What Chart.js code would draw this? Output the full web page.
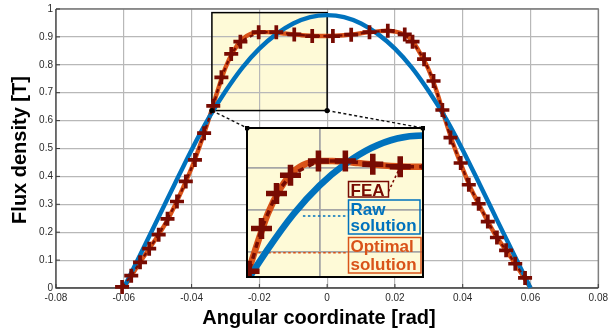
<!DOCTYPE html>
<html>
<head>
<meta charset="utf-8">
<script src="https://cdn.jsdelivr.net/npm/chart.js@4/dist/chart.umd.min.js"></script>
<style>
  html, body { margin: 0; padding: 0; background: #ffffff; }
  #wrap { position: relative; width: 612px; height: 334px; overflow: hidden; }
  #main { position: absolute; left: 0; top: 0; }
  #inset { position: absolute; left: 245px; top: 126px; }
</style>
</head>
<body>
<div id="wrap">
  <canvas id="main" width="612" height="334"></canvas>
  <canvas id="inset" width="180" height="153"></canvas>
</div>
<script>
// Angular coordinate [rad] / flux density [T] samples
const rawAngle = [-0.06, -0.055, -0.05, -0.045, -0.04, -0.035, -0.03, -0.025, -0.02, -0.015, -0.01, -0.005, 0,
                  0.005, 0.01, 0.015, 0.02, 0.025, 0.03, 0.035, 0.04, 0.045, 0.05, 0.055, 0.06];
const rawFlux  = [0, 0.123, 0.247, 0.372, 0.495, 0.608, 0.705, 0.79, 0.858, 0.91, 0.948, 0.971, 0.978,
                  0.971, 0.948, 0.91, 0.858, 0.79, 0.705, 0.608, 0.495, 0.372, 0.247, 0.123, 0];

const optAngle = [-0.06, -0.0575, -0.055, -0.0525, -0.05, -0.0475, -0.045, -0.0425, -0.04, -0.0375, -0.035, -0.0325,
                  -0.03, -0.0275, -0.025, -0.0225, -0.02, -0.0175, -0.015, -0.0125, -0.01, -0.0075, -0.005, -0.0025, 0,
                  0.0025, 0.005, 0.0075, 0.01, 0.0125, 0.015, 0.0175, 0.02, 0.0225, 0.025, 0.0275, 0.03,
                  0.0325, 0.035, 0.0375, 0.04, 0.0425, 0.045, 0.0475, 0.05, 0.0525, 0.055, 0.0575, 0.06];
const optFlux  = [0, 0.049, 0.096, 0.141, 0.186, 0.235, 0.294, 0.36, 0.43, 0.512, 0.602, 0.7,
                  0.79, 0.852, 0.892, 0.911, 0.917, 0.917, 0.915, 0.912, 0.909, 0.906, 0.904, 0.903, 0.903,
                  0.904, 0.906, 0.909, 0.913, 0.917, 0.92, 0.922, 0.919, 0.91, 0.888, 0.84, 0.781,
                  0.698, 0.597, 0.506, 0.428, 0.354, 0.295, 0.236, 0.183, 0.14, 0.096, 0.049, 0];

const feaAngle = [-0.0605, -0.0578, -0.0552, -0.0525, -0.0497, -0.0471, -0.0443, -0.0417, -0.039, -0.0363,
                  -0.0336, -0.0312, -0.0283, -0.0256, -0.0202, -0.015, -0.0097, -0.0044,
                  0.0017, 0.0071, 0.0125, 0.0179, 0.0229, 0.0252, 0.0286, 0.0314, 0.034, 0.0364,
                  0.0394, 0.0418, 0.0447, 0.0474, 0.0501, 0.0528, 0.0555, 0.0584];
const feaFlux  = [0.004, 0.044, 0.092, 0.141, 0.191, 0.248, 0.31, 0.382, 0.459, 0.555,
                  0.653, 0.755, 0.839, 0.883, 0.917, 0.917, 0.909, 0.903,
                  0.903, 0.908, 0.917, 0.922, 0.909, 0.883, 0.82, 0.742, 0.638, 0.539,
                  0.448, 0.37, 0.302, 0.238, 0.181, 0.135, 0.087, 0.036];

const xTicks = [-0.08, -0.06, -0.04, -0.02, 0, 0.02, 0.04, 0.06, 0.08];
const xTickLabels = ['-0.08', '-0.06', '-0.04', '-0.02', '0', '0.02', '0.04', '0.06', '0.08'];
const yTicks = [0, 0.1, 0.2, 0.3, 0.4, 0.5, 0.6, 0.7, 0.8, 0.9, 1];
const yTickLabels = ['0', '0.1', '0.2', '0.3', '0.4', '0.5', '0.6', '0.7', '0.8', '0.9', '1'];

// Region outlined on the main axes and the range shown by the magnified inset
const zoomAngle = [-0.034, 0];
const zoomFlux = [0.636, 0.987];
const insetAngle = [-0.034, 0];
const insetFlux = [0.639, 0.996];

// Anchor points of the label leader lines inside the inset
const rawLeaderAt = [-0.0232, 0.785];
const optLeaderAt = [-0.0328, 0.697];
const feaLeaderAt = [-0.0044, 0.903];

const seriesNames = ['FEA', 'Raw solution', 'Optimal solution'];
const xTitle = 'Angular coordinate [rad]';
const yTitle = 'Flux density [T]';

const FEA_COLOR = '#780b02';
const RAW_COLOR = '#0072bd';
const OPT_COLOR = '#d95319';
const PANEL_FILL = '#fefad7';
const FONT = '"Liberation Sans", Arial, Helvetica, sans-serif';

const pts = (xs, ys) => xs.map((x, i) => ({ x: x, y: ys[i] }));

function makeDatasets(s, clip) {
  return [
    {
      label: seriesNames[0], data: pts(feaAngle, feaFlux), showLine: true, order: 0, clip: clip,
      borderColor: FEA_COLOR, borderWidth: 2.3 * s, borderDash: [4 * s, 3.5 * s], tension: 0,
      pointStyle: 'cross', pointRadius: 7 * s, pointBorderWidth: 3.7 * s,
      pointBorderColor: FEA_COLOR, pointBackgroundColor: FEA_COLOR
    },
    {
      label: seriesNames[1], data: pts(rawAngle, rawFlux), showLine: true, order: 1, clip: clip,
      borderColor: RAW_COLOR, borderWidth: 4.4 * s, pointRadius: 0, cubicInterpolationMode: 'monotone'
    },
    {
      label: seriesNames[2], data: pts(optAngle, optFlux), showLine: true, order: 2, clip: clip,
      borderColor: OPT_COLOR, borderWidth: 4.4 * s, pointRadius: 0, cubicInterpolationMode: 'monotone'
    }
  ];
}

// ---------- magnified inset ----------
const insetPlugin = {
  id: 'insetPanel',
  beforeDraw(chart) {
    const a = chart.chartArea, ctx = chart.ctx;
    ctx.save();
    ctx.fillStyle = PANEL_FILL;
    ctx.fillRect(a.left, a.top, a.right - a.left, a.bottom - a.top);
    ctx.restore();
  },
  beforeDatasetsDraw(chart) {
    const ctx = chart.ctx, xs = chart.scales.x, ys = chart.scales.y, a = chart.chartArea;
    const boxLeft = a.left + 101.5;
    ctx.save();
    ctx.lineWidth = 1.6;
    ctx.setLineDash([2.5, 2.5]);
    // Raw solution leader
    ctx.strokeStyle = RAW_COLOR;
    let y = ys.getPixelForValue(rawLeaderAt[1]);
    ctx.beginPath(); ctx.moveTo(xs.getPixelForValue(rawLeaderAt[0]), y); ctx.lineTo(boxLeft, y); ctx.stroke();
    // Optimal solution leader
    ctx.strokeStyle = OPT_COLOR;
    y = ys.getPixelForValue(optLeaderAt[1]);
    ctx.beginPath(); ctx.moveTo(xs.getPixelForValue(optLeaderAt[0]), y); ctx.lineTo(boxLeft, y); ctx.stroke();
    // FEA leader
    ctx.strokeStyle = FEA_COLOR;
    ctx.beginPath();
    ctx.moveTo(a.left + 141.5, a.top + 63.5);
    ctx.lineTo(xs.getPixelForValue(feaLeaderAt[0]), ys.getPixelForValue(feaLeaderAt[1]));
    ctx.stroke();
    ctx.restore();
  },
  afterDatasetsDraw(chart) {
    const ctx = chart.ctx, a = chart.chartArea;
    const L = a.left, T = a.top;
    ctx.save();
    ctx.font = 'bold 17px ' + FONT;
    ctx.textBaseline = 'alphabetic';
    ctx.textAlign = 'left';
    ctx.lineWidth = 1.5;
    const label = (color, box, lines) => {
      ctx.strokeStyle = color;
      ctx.strokeRect(L + box[0], T + box[1], box[2], box[3]);
      ctx.fillStyle = color;
      lines.forEach(l => ctx.fillText(l[0], L + 103.5, T + l[1]));
    };
    label(FEA_COLOR, [101.5, 53.5, 40, 15.5], [[seriesNames[0], 67.5]]);
    const rawWords = seriesNames[1].split(' ');
    label(RAW_COLOR, [101.5, 72, 71.5, 34], [[rawWords[0], 86.8], [rawWords[1], 103.4]]);
    const optWords = seriesNames[2].split(' ');
    label(OPT_COLOR, [101.5, 109.5, 72.5, 35.5], [[optWords[0], 124.2], [optWords[1], 141.8]]);

    // panel outline and the two connector end dots
    ctx.strokeStyle = '#000';
    ctx.lineWidth = 2;
    ctx.strokeRect(a.left, a.top, a.right - a.left, a.bottom - a.top);
    ctx.fillStyle = '#000';
    [[a.left, a.top], [a.right, a.top]].forEach(p => {
      ctx.beginPath(); ctx.arc(p[0], p[1], 2.6, 0, Math.PI * 2); ctx.fill();
    });
    ctx.restore();
  }
};

const insetChart = new Chart(document.getElementById('inset'), {
  type: 'scatter',
  data: { datasets: makeDatasets(1.5, 0) },
  options: {
    responsive: false, animation: false, devicePixelRatio: 1, events: [],
    layout: { padding: 2, autoPadding: false },
    plugins: { legend: { display: false }, tooltip: { enabled: false } },
    scales: {
      x: {
        type: 'linear', min: insetAngle[0], max: insetAngle[1],
        afterBuildTicks: s => { s.ticks = xTicks.filter(v => v > insetAngle[0] + 1e-9 && v < insetAngle[1] - 1e-9).map(v => ({ value: v })); },
        afterFit: s => { s.height = 0; },
        ticks: { display: false },
        grid: { color: '#a6a6a6', lineWidth: 1.8, drawTicks: false },
        border: { display: false }
      },
      y: {
        type: 'linear', min: insetFlux[0], max: insetFlux[1],
        afterBuildTicks: s => { s.ticks = yTicks.filter(v => v > insetFlux[0] && v < insetFlux[1]).map(v => ({ value: v })); },
        afterFit: s => { s.width = 0; },
        ticks: { display: false },
        grid: { color: '#a6a6a6', lineWidth: 1.8, drawTicks: false },
        border: { display: false }
      }
    }
  },
  plugins: [insetPlugin]
});

// ---------- main axes ----------
const framePlugin = {
  id: 'frameAndZoom',
  beforeDraw(chart) {
    const ctx = chart.ctx, xs = chart.scales.x, ys = chart.scales.y;
    const x0 = xs.getPixelForValue(zoomAngle[0]), x1 = xs.getPixelForValue(zoomAngle[1]);
    const y0 = ys.getPixelForValue(zoomFlux[1]), y1 = ys.getPixelForValue(zoomFlux[0]);
    ctx.save();
    ctx.fillStyle = PANEL_FILL;
    ctx.fillRect(x0, y0, x1 - x0, y1 - y0);
    ctx.restore();
  },
  beforeDatasetsDraw(chart) {
    const ctx = chart.ctx, a = chart.chartArea, xs = chart.scales.x, ys = chart.scales.y;
    ctx.save();
    // axes box
    ctx.lineWidth = 1.3;
    ctx.strokeStyle = '#7a7a7a';
    ctx.beginPath();
    ctx.moveTo(a.left, a.top); ctx.lineTo(a.right, a.top); ctx.lineTo(a.right, a.bottom);
    ctx.stroke();
    ctx.strokeStyle = '#3c3c3c';
    ctx.beginPath();
    ctx.moveTo(a.left, a.top); ctx.lineTo(a.left, a.bottom); ctx.lineTo(a.right, a.bottom);
    ctx.stroke();
    // inward tick marks
    ctx.lineWidth = 1;
    xTicks.forEach(v => {
      const x = xs.getPixelForValue(v);
      ctx.beginPath(); ctx.moveTo(x, a.bottom); ctx.lineTo(x, a.bottom - 4); ctx.stroke();
    });
    yTicks.forEach(v => {
      const y = ys.getPixelForValue(v);
      ctx.beginPath(); ctx.moveTo(a.left, y); ctx.lineTo(a.left + 4, y); ctx.stroke();
    });
    // outline of the magnified region
    const x0 = xs.getPixelForValue(zoomAngle[0]), x1 = xs.getPixelForValue(zoomAngle[1]);
    const y0 = ys.getPixelForValue(zoomFlux[1]), y1 = ys.getPixelForValue(zoomFlux[0]);
    ctx.strokeStyle = '#000';
    ctx.lineWidth = 1.5;
    ctx.strokeRect(x0, y0, x1 - x0, y1 - y0);
    ctx.restore();
  },
  afterDatasetsDraw(chart) {
    const ctx = chart.ctx, xs = chart.scales.x, ys = chart.scales.y;
    const x0 = xs.getPixelForValue(zoomAngle[0]), x1 = xs.getPixelForValue(zoomAngle[1]);
    const yb = ys.getPixelForValue(zoomFlux[0]);
    const ic = document.getElementById('inset');
    const ia = insetChart.chartArea;
    const il = ic.offsetLeft + ia.left, ir = ic.offsetLeft + ia.right, it = ic.offsetTop + ia.top;
    ctx.save();
    ctx.strokeStyle = '#111';
    ctx.lineWidth = 1.4;
    ctx.setLineDash([3, 2.5]);
    ctx.beginPath(); ctx.moveTo(x0, yb); ctx.lineTo(il, it); ctx.stroke();
    ctx.beginPath(); ctx.moveTo(x1, yb); ctx.lineTo(ir, it); ctx.stroke();
    ctx.setLineDash([]);
    ctx.fillStyle = '#000';
    [[x0, yb], [x1, yb]].forEach(p => {
      ctx.beginPath(); ctx.arc(p[0], p[1], 2.6, 0, Math.PI * 2); ctx.fill();
    });
    ctx.restore();
  },
  afterDraw(chart) {
    const ctx = chart.ctx, a = chart.chartArea;
    ctx.save();
    ctx.fillStyle = '#000';
    ctx.font = 'bold 20px ' + FONT;
    ctx.textAlign = 'center';
    ctx.textBaseline = 'alphabetic';
    ctx.fillText(xTitle, 319, 323.5);
    ctx.translate(25.5, (a.top + a.bottom) / 2 + 1.5);
    ctx.rotate(-Math.PI / 2);
    ctx.fillText(yTitle, 0, 0);
    ctx.restore();
  }
};

const mainChart = new Chart(document.getElementById('main'), {
  type: 'scatter',
  data: { datasets: makeDatasets(1, false) },
  options: {
    responsive: false, animation: false, devicePixelRatio: 1, events: [],
    layout: { padding: { top: 9, right: 10, left: 0, bottom: 0 }, autoPadding: false },
    plugins: { legend: { display: false }, tooltip: { enabled: false } },
    scales: {
      x: {
        type: 'linear', min: xTicks[0], max: xTicks[xTicks.length - 1],
        afterBuildTicks: s => { s.ticks = xTicks.map(v => ({ value: v })); },
        afterFit: s => { s.height = 46; },
        ticks: {
          callback: (v, i) => xTickLabels[i], autoSkip: false, maxRotation: 0,
          font: { family: FONT, size: 10 }, color: '#2b2b2b', padding: 4
        },
        grid: { color: '#b8b8b8', lineWidth: 1.2, drawTicks: false },
        border: { display: false }
      },
      y: {
        type: 'linear', min: yTicks[0], max: yTicks[yTicks.length - 1],
        afterBuildTicks: s => { s.ticks = yTicks.map(v => ({ value: v })); },
        afterFit: s => { s.width = 56; },
        ticks: {
          callback: (v, i) => yTickLabels[i], autoSkip: false,
          font: { family: FONT, size: 10 }, color: '#2b2b2b', padding: 3
        },
        grid: { color: '#b8b8b8', lineWidth: 1.2, drawTicks: false },
        border: { display: false }
      }
    }
  },
  plugins: [framePlugin]
});
</script>
</body>
</html>
